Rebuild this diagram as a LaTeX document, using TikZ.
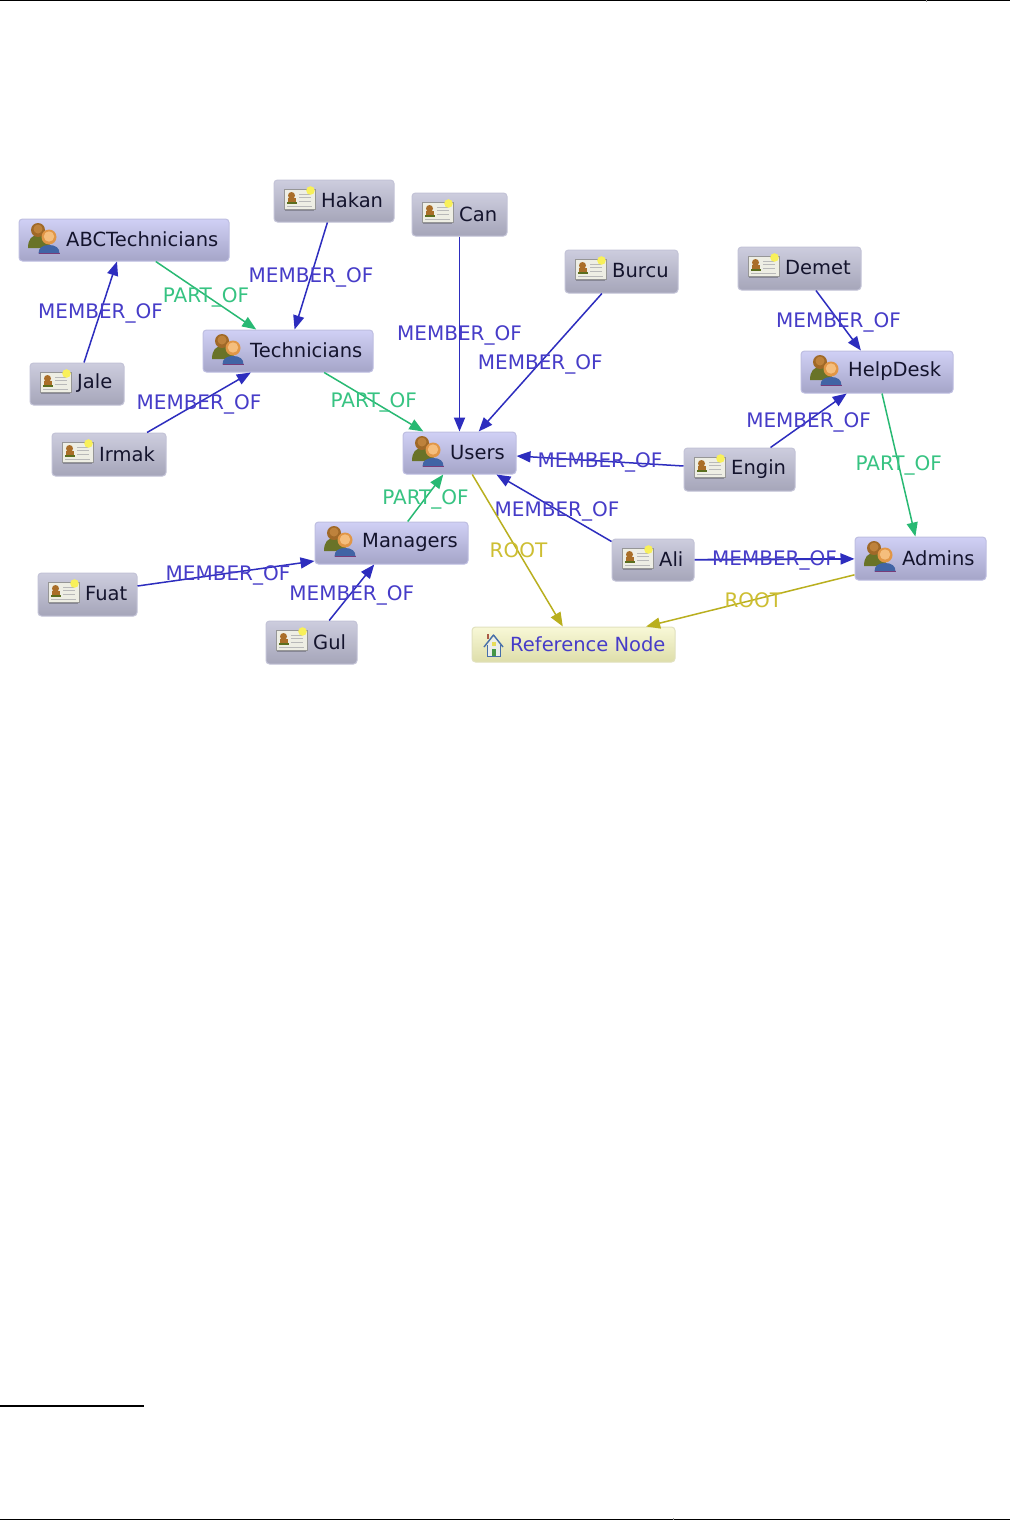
\documentclass[tikz,border=0pt]{standalone}
\usepackage{fontspec}
\setmainfont{DejaVu Sans}
\usetikzlibrary{arrows.meta}
\definecolor{memc}{RGB}{45,45,190}
\definecolor{memt}{RGB}{70,60,200}
\definecolor{parc}{RGB}{40,185,115}
\definecolor{part}{RGB}{55,195,130}
\definecolor{rooc}{RGB}{185,175,30}
\definecolor{root}{RGB}{205,190,50}
\definecolor{ink}{RGB}{20,20,45}
\definecolor{gdraw}{RGB}{190,190,225}
\definecolor{gtop}{RGB}{208,208,245}
\definecolor{gbot}{RGB}{165,165,200}
\definecolor{cdraw}{RGB}{195,195,215}
\definecolor{ctop}{RGB}{205,205,222}
\definecolor{cbot}{RGB}{165,165,185}
\definecolor{rdraw}{RGB}{225,225,190}
\definecolor{rtop}{RGB}{248,248,215}
\definecolor{rbot}{RGB}{222,222,170}
\definecolor{olive}{RGB}{105,115,40}
\definecolor{brownh}{RGB}{160,105,40}
\definecolor{brownl}{RGB}{190,130,60}
\definecolor{blueb}{RGB}{65,100,165}
\definecolor{purpl}{RGB}{120,60,120}
\definecolor{orangeh}{RGB}{225,150,70}
\definecolor{orangel}{RGB}{245,190,125}
\definecolor{cardw}{RGB}{238,238,228}
\definecolor{cardl}{RGB}{150,150,150}
\definecolor{cardm}{RGB}{185,185,185}
\definecolor{cards}{RGB}{135,135,150}
\definecolor{oliv2}{RGB}{90,110,30}
\definecolor{brn2}{RGB}{170,110,40}
\definecolor{yell}{RGB}{248,240,90}
\definecolor{hwall}{RGB}{235,238,235}
\definecolor{hline}{RGB}{70,110,170}
\definecolor{hroof}{RGB}{170,90,70}
\definecolor{hdoor}{RGB}{70,150,70}
\definecolor{hwin}{RGB}{230,220,90}
\definecolor{tick}{RGB}{150,150,150}
\tikzset{
  box/.style={rectangle,rounded corners=3.5pt,inner sep=0pt,line width=1pt},
  groupbox/.style={box,draw=gdraw,top color=gtop,bottom color=gbot},
  cardbox/.style={box,draw=cdraw,top color=ctop,bottom color=cbot},
  refbox/.style={box,draw=rdraw,top color=rtop,bottom color=rbot},
  boxtext/.style={anchor=west,inner sep=0pt,text=ink,font=\fontsize{19.5}{24}\selectfont},
  lbl/.style={midway,inner sep=0pt,yshift=-1.5pt,font=\fontsize{20}{24}\selectfont},
  member/.style={draw=memc,line width=1.5pt,-{Triangle[length=14pt,width=11pt,fill=memc]},every node/.append style={text=memt}},
  partof/.style={draw=parc,line width=1.5pt,-{Triangle[length=14pt,width=11pt,fill=parc]},every node/.append style={text=part}},
  rootof/.style={draw=rooc,line width=1.5pt,-{Triangle[length=14pt,width=11pt,fill=rooc]},every node/.append style={text=root}},
  rulebar/.style={draw=black,line width=1.6pt}
}
\newcommand{\groupicon}[2]{\begin{scope}[shift={(#1,#2)}]
  \fill[olive] (9,29) .. controls (9,20) and (13,16) .. (19,16) .. controls (26,16) and (31,20) .. (31,29) -- cycle;
  \fill[brownh] (19,11) circle[radius=7];
  \fill[brownl] (19,10) circle[radius=4.5];
  \fill[blueb] (19.5,34.5) .. controls (19.5,29) and (23,26) .. (30,26) .. controls (37,26) and (40.5,29) .. (40.5,34.5) -- cycle;
  \draw[purpl,line width=.8pt] (19.5,34.5) -- (40.5,34.5);
  \fill[orangeh] (30,18) circle[radius=7.5];
  \fill[orangel] (30,17.5) circle[radius=5.2];
\end{scope}}
\newcommand{\cardicon}[2]{\begin{scope}[shift={(#1,#2)}]
  \fill[cards] (11,29) rectangle (40,31);
  \fill[cardw] (10,9.5) rectangle (41,29.5);
  \draw[cardl,line width=.6pt] (10,9.5) rectangle (41,29.5);
  \fill[oliv2] (13,22) rectangle (23,24);
  \fill[brn2] (17.5,15.5) circle[radius=3.5];
  \fill[brn2] (14,22) rectangle (22,17.5);
  \draw[cardm,line width=.6pt] (25,14) -- (36,14) (25,17.5) -- (37,17.5) (25,21) -- (37,21) (13,26.5) -- (38,26.5);
  \fill[yell] (36.5,10.5) circle[radius=4.3];
\end{scope}}
\newcommand{\houseicon}[2]{\begin{scope}[shift={(#1,#2)}]
  \fill[hwall] (15,19) -- (22,11) -- (28,19) -- (28,30) -- (15,30) -- cycle;
  \draw[hline,line width=.8pt] (15,19) -- (15,30) -- (28,30) -- (28,19);
  \draw[hline,line width=1.4pt,line join=round] (12,21) -- (21.5,9) -- (31,21);
  \fill[hroof] (14.5,7.5) rectangle (17,13);
  \fill[hdoor] (19.5,23) rectangle (23.5,30);
  \fill[hwin] (19.5,16) rectangle (23.5,20);
\end{scope}}
\newcommand{\bx}[7]{% name, style, x1, y1, x2, y2, text
  \node[#2,minimum width={(#5-#3)*1pt},minimum height={(#6-#4)*1pt}] (#1) at ({(#3+#5)/2},{(#4+#6)/2}) {};
  \node[boxtext] (#1-t) at ({#3+47},{(#4+#6)/2-0.5}) {#7};
}
\begin{document}
\begin{tikzpicture}[x=1pt,y=-1pt]
\useasboundingbox (0,0) rectangle (1010,1520);
\fill[white] (0,0) rectangle (1010,1520);
\coordinate (tl) at (0,0.6); \coordinate (tr) at (1010,0.6);
\coordinate (bl) at (0,1519.4); \coordinate (br) at (1010,1519.4);
\coordinate (fl) at (0,1406); \coordinate (fr) at (144,1406);
\coordinate (t1) at (926,0); \coordinate (t2) at (926,1.6);
\coordinate (b1) at (673,1518.4); \coordinate (b2) at (673,1520);
\draw[rulebar] (tl) -- (tr);
\draw[rulebar] (bl) -- (br);
\draw[rulebar] (fl) -- (fr);
\draw[tick,line width=1pt] (t1) -- (t2);
\draw[tick,line width=1pt] (b1) -- (b2);
% nodes
\bx{abc}{groupbox}{19}{219}{229}{261}{ABCTechnicians}\groupicon{19}{219}
\bx{tech}{groupbox}{203}{330}{373}{372}{Technicians}\groupicon{203}{330}
\bx{users}{groupbox}{403}{432}{516}{474}{Users}\groupicon{403}{432}
\bx{mgr}{groupbox}{315}{522}{468}{564}{Managers}\groupicon{315}{522}
\bx{help}{groupbox}{801}{351}{953}{393}{HelpDesk}\groupicon{801}{351}
\bx{admins}{groupbox}{855}{537}{986}{580}{Admins}\groupicon{855}{537}
\bx{hakan}{cardbox}{274}{180}{394}{222}{Hakan}\cardicon{274}{180}
\bx{can}{cardbox}{412}{193}{507}{236}{Can}\cardicon{412}{193}
\bx{burcu}{cardbox}{565}{250}{678}{293}{Burcu}\cardicon{565}{250}
\bx{demet}{cardbox}{738}{247}{861}{290}{Demet}\cardicon{738}{247}
\bx{jale}{cardbox}{30}{363}{124}{405}{Jale}\cardicon{30}{363}
\bx{irmak}{cardbox}{52}{433}{166}{476}{Irmak}\cardicon{52}{433}
\bx{engin}{cardbox}{684}{448}{795}{491}{Engin}\cardicon{684}{448}
\bx{ali}{cardbox}{612}{539}{694}{581}{Ali}\cardicon{612}{539}
\bx{fuat}{cardbox}{38}{573}{137}{616}{Fuat}\cardicon{38}{573}
\bx{gul}{cardbox}{266}{621}{357}{664}{Gul}\cardicon{266}{621}
\node[refbox,minimum width=203pt,minimum height=35pt] (ref) at (573.5,644.5) {};
\houseicon{472}{626}
\node[boxtext,text=memt] (ref-t) at (510,644) {Reference Node};
% edges
\draw[member] (jale) -- node[lbl]{MEMBER\_OF} (abc);
\draw[member] (hakan) -- node[lbl]{MEMBER\_OF} (tech);
\draw[member] (irmak) -- node[lbl]{MEMBER\_OF} (tech);
\draw[member,line width=1.9pt] (can) -- node[lbl]{MEMBER\_OF} (users);
\draw[member] (burcu) -- node[lbl]{MEMBER\_OF} (users);
\draw[member] ([yshift=3.5pt]engin.west) -- node[lbl]{MEMBER\_OF} ([yshift=-3pt]users.east);
\draw[member] ([yshift=-3pt]ali.north west) -- node[lbl,xshift=3pt,yshift=-2pt]{MEMBER\_OF} (users);
\draw[member] ([yshift=8.5pt]fuat.east) -- node[lbl,xshift=2pt]{MEMBER\_OF} ([yshift=-18pt]mgr.west);
\draw[member] (gul) -- node[lbl,yshift=-1pt]{MEMBER\_OF} (mgr);
\draw[member] (demet) -- node[lbl]{MEMBER\_OF} (help);
\draw[member] (engin) -- node[lbl]{MEMBER\_OF} (help);
\draw[member,line width=1.9pt] (ali) -- node[lbl]{MEMBER\_OF} (admins);
\draw[partof] (abc) -- node[lbl]{PART\_OF} (tech);
\draw[partof] (tech) -- node[lbl,yshift=1.5pt]{PART\_OF} (users);
\draw[partof] (mgr) -- node[lbl]{PART\_OF} (users);
\draw[partof] (help) -- node[lbl,yshift=1pt]{PART\_OF} (admins);
\draw[rootof] (users) -- node[lbl,xshift=1pt,yshift=1.5pt]{ROOT} (ref);
\draw[rootof] (admins) -- node[lbl,xshift=3pt,yshift=1.5pt]{ROOT} (ref);
\end{tikzpicture}
\end{document}
